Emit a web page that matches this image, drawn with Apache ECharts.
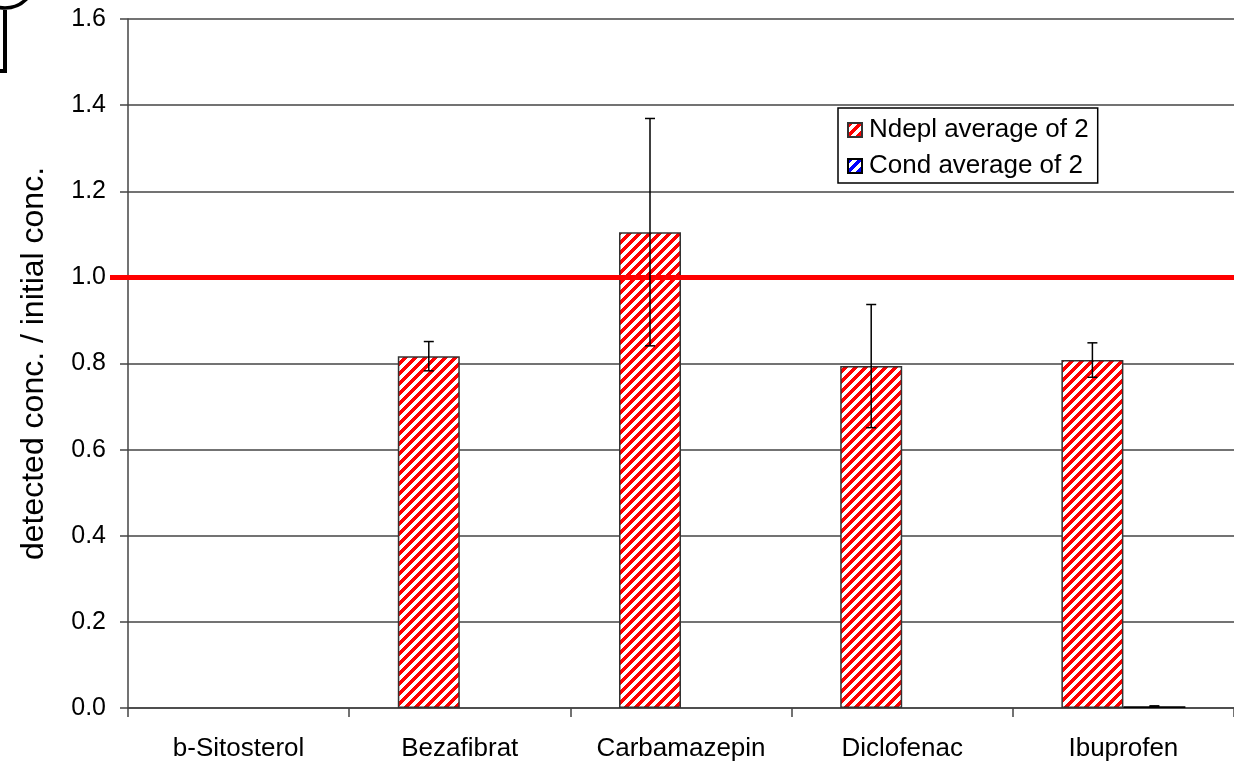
<!DOCTYPE html>
<html>
<head>
<meta charset="utf-8">
<script src="https://cdn.jsdelivr.net/npm/echarts@6/dist/echarts.min.js"></script>
<style>
html,body{margin:0;padding:0;background:#fff;}
#chart{width:1234px;height:767px;}
</style>
</head>
<body>
<div id="chart"></div>
<script>
// ---- data ----
var categories = ['b-Sitosterol', 'Bezafibrat', 'Carbamazepin', 'Diclofenac', 'Ibuprofen'];
var seriesNames = ['Ndepl average of 2', 'Cond average of 2'];
var ndeplValues = [null, 0.817, 1.105, 0.794, 0.808];
var ndeplErrors = [null, 0.034, 0.264, 0.143, 0.040];
var condValues = [null, null, null, null, 0.004];
var condErrors = [null, null, null, null, 0.001];
var yTicks = ['0.0', '0.2', '0.4', '0.6', '0.8', '1.0', '1.2', '1.4', '1.6'];
var referenceValue = 1.0;

function stripePattern(color) {
  var size = 10;
  var c = document.createElement('canvas');
  c.width = size; c.height = size;
  var ctx = c.getContext('2d');
  ctx.fillStyle = '#ffffff';
  ctx.fillRect(0, 0, size, size);
  ctx.fillStyle = color;
  for (var x = 0; x < size; x++) {
    for (var y = 0; y < size; y++) {
      if ((x + y) % size < 5) ctx.fillRect(x, y, 1, 1);
    }
  }
  return { image: c, repeat: 'repeat' };
}

var FONT = '"Liberation Sans", Arial, sans-serif';
var BAR_W = 62;

function errorSeries(values, errors, offset) {
  var d = values.map(function (v, i) { return [i, v == null ? 0 : v, errors[i] == null ? 0 : errors[i]]; });
  return {
    type: 'custom',
    z: 5,
    silent: true,
    data: d,
    renderItem: function (params, api) {
      var i = api.value(0), v = api.value(1), e = api.value(2);
      if (!e) return null;
      var top = api.coord([i, v + e]);
      var bot = api.coord([i, v - e]);
      var x = top[0] + offset;
      var cap = 5;
      var st = { stroke: '#000', lineWidth: 1.5 };
      return {
        type: 'group',
        children: [
          { type: 'line', shape: { x1: x, y1: top[1], x2: x, y2: bot[1] }, style: st },
          { type: 'line', shape: { x1: x - cap, y1: top[1], x2: x + cap, y2: top[1] }, style: st },
          { type: 'line', shape: { x1: x - cap, y1: bot[1], x2: x + cap, y2: bot[1] }, style: st }
        ]
      };
    }
  };
}

var chart = echarts.init(document.getElementById('chart'));
var option = {
  backgroundColor: '#ffffff',
  animation: false,
  grid: { left: 128, top: 19, bottom: 59, width: 1110, containLabel: false },
  legend: {
    orient: 'vertical',
    left: 838, top: 108,
    data: seriesNames,
    itemWidth: 14, itemHeight: 14,
    itemGap: 8,
    padding: [8, 9, 3, 9],
    borderColor: '#000', borderWidth: 1.5,
    backgroundColor: '#fff',
    icon: 'rect',
    textStyle: { fontFamily: FONT, fontSize: 26, color: '#000', lineHeight: 28, padding: [0, 0, 0, 2] }
  },
  xAxis: {
    type: 'category',
    data: categories,
    boundaryGap: true,
    axisLine: { lineStyle: { color: '#444', width: 1.5 } },
    axisTick: { show: true, length: 9, alignWithLabel: false, lineStyle: { color: '#444', width: 1.5 } },
    axisLabel: { fontFamily: FONT, fontSize: 26, color: '#000', margin: 28 }
  },
  yAxis: {
    type: 'value',
    min: 0, max: 1.6, interval: 0.2,
    name: 'detected conc. / initial conc.',
    nameLocation: 'middle',
    nameGap: 78,
    nameTextStyle: { fontFamily: FONT, fontSize: 32, color: '#000' },
    axisLine: { show: true, lineStyle: { color: '#444', width: 1.5 } },
    axisTick: { show: true, length: 8, lineStyle: { color: '#444', width: 1.5 } },
    splitLine: { show: true, lineStyle: { color: '#444', width: 1.5 } },
    axisLabel: {
      fontFamily: FONT, fontSize: 25, color: '#000', margin: 22,
      formatter: function (v) { return yTicks[Math.round(v / 0.2)]; }
    }
  },
  series: [
    {
      name: seriesNames[0],
      type: 'bar',
      data: ndeplValues,
      barWidth: BAR_W,
      barGap: '0%',
      itemStyle: { color: stripePattern('#ff0000'), borderColor: '#333', borderWidth: 1.5 }
    },
    {
      name: seriesNames[1],
      type: 'bar',
      data: condValues,
      barWidth: BAR_W,
      barGap: '0%',
      itemStyle: { color: stripePattern('#0000ff'), borderColor: '#000', borderWidth: 1.5 }
    },
    errorSeries(ndeplValues, ndeplErrors, -BAR_W / 2),
    errorSeries(condValues, condErrors, BAR_W / 2),
    {
      type: 'line',
      data: [],
      z: 10,
      markLine: {
        silent: true,
        symbol: ['none', 'none'],
        label: { show: false },
        lineStyle: { color: '#ff0000', width: 5, type: 'solid' },
        data: [[{ x: 110, yAxis: referenceValue }, { x: 1234, yAxis: referenceValue }]]
      }
    }
  ],
  graphic: [
    { type: 'arc', shape: { cx: 5, cy: -22, r: 30, startAngle: 0, endAngle: Math.PI }, style: { stroke: '#000', lineWidth: 3.5, fill: null } },
    { type: 'polyline', shape: { points: [[0, 71], [5, 71], [5, 10]] }, style: { stroke: '#000', lineWidth: 4, fill: null } }
  ]
};
chart.setOption(option);
</script>
</body>
</html>
